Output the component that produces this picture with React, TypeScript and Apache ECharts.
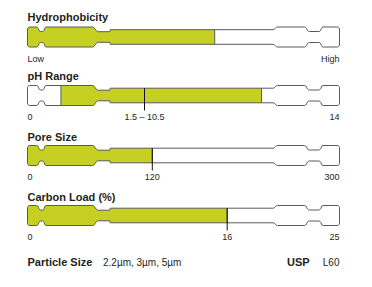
import React, { useEffect, useRef } from 'react';
import * as echarts from 'echarts';

// ---- data ----
const titles = ['Hydrophobicity', 'pH Range', 'Pore Size', 'Carbon Load (%)'];
const axisMax = [10, 14, 300, 25];
const fillStart = [0, 1.5, 0, 0];
const fillEnd = [6, 10.5, 120, 16];
const markerValue: (number | null)[] = [null, 5.25, 120, 16];
const tickValues = [[0, 10], [0, 5.25, 14], [0, 120, 300], [0, 16, 25]];
const tickLabels = [['Low', 'High'], ['0', '1.5 – 10.5', '14'], ['0', '120', '300'], ['0', '16', '25']];
const particleLabel = 'Particle Size';
const particleSizes = ['2.2µm', '3µm', '5µm'];
const uspLabel = 'USP';
const uspCode = 'L60';

// ---- styling / geometry ----
const FONT = '"Liberation Sans", Arial, sans-serif';
const FILL = '#c5d023';
const OUTLINE = '#5a5a5a';
const TEXT = '#231f20';
const barCenters = [37, 95.5, 155.5, 215.5];
const titleCenters = [16.5, 76, 136.5, 196.5];
const GRID_LEFT = 27.5;
const GRID_RIGHT = 32.5;
const W0 = 311.6;
// column silhouette: [dx, half-height]
const profile: [number, number][] = [
  [0, 8], [0.4, 9.1], [1.1, 9.7], [2.2, 10],
  [9.2, 10], [10.2, 9.5], [10.9, 8.3], [11.5, 6.6], [12.3, 5.8], [13.2, 5.5],
  [15.0, 5.5], [15.9, 5.8], [16.6, 6.8], [17.1, 8.5], [17.7, 9.6], [18.6, 10],
  [65.2, 10], [66.2, 9.6], [68.5, 6.5], [70, 5.3],
  [82.3, 5.3], [82.6, 7.3],
  [245.3, 7.3], [246.5, 7.7], [247.5, 8.8], [248.5, 9.7], [249.8, 10],
  [276.8, 10], [277.8, 9.5], [278.7, 8.3], [279.5, 6.6], [280.5, 5.8], [281.5, 5.5],
  [291, 5.5], [292, 5.8], [292.9, 6.8], [293.5, 8.5], [294.2, 9.6], [295.2, 10],
  [309.4, 10], [310.5, 9.7], [311.2, 9.1], [311.6, 8],
];

function hAt(dx: number): number {
  if (dx <= profile[0][0]) return profile[0][1];
  for (let i = 0; i < profile.length - 1; i++) {
    const [x0, h0] = profile[i];
    const [x1, h1] = profile[i + 1];
    if (dx >= x0 && dx <= x1) {
      if (x1 === x0) return Math.max(h0, h1);
      return h0 + ((h1 - h0) * (dx - x0)) / (x1 - x0);
    }
  }
  return profile[profile.length - 1][1];
}

function polyBetween(a: number, b: number, left: number, s: number, cy: number) {
  const top: [number, number][] = [[a, hAt(a)]];
  profile.forEach(([dx, h]) => {
    if (dx > a && dx < b) top.push([dx, h]);
  });
  top.push([b, hAt(b)]);
  const pts: number[][] = [];
  top.forEach(([dx, h]) => pts.push([left + dx * s, cy - h]));
  for (let i = top.length - 1; i >= 0; i--) pts.push([left + top[i][0] * s, cy + top[i][1]]);
  return pts;
}

function makeRender(row: number) {
  return (params: any, api: any) => {
    const cs = params.coordSys;
    const left = cs.x;
    const s = cs.width / W0;
    const cy = cs.y + cs.height / 2;
    const start = api.value(0);
    const end = api.value(1);
    const xa = api.coord([start, 0])[0];
    const xb = api.coord([end, 0])[0];
    const da = (xa - left) / s;
    const db = (xb - left) / s;
    const full = polyBetween(0, W0, left, s, cy);
    const children: any[] = [
      { type: 'polygon', shape: { points: full }, style: { fill: '#fff', stroke: null } },
      { type: 'polygon', shape: { points: polyBetween(da, db, left, s, cy) }, style: { fill: FILL, stroke: null } },
      { type: 'polygon', shape: { points: full }, style: { fill: null, stroke: OUTLINE, lineWidth: 1 } },
    ];
    if (start > 0) {
      const h = hAt(da);
      children.push({ type: 'line', shape: { x1: xa, y1: cy - h, x2: xa, y2: cy + h }, style: { stroke: OUTLINE, lineWidth: 1 } });
    }
    if (end < axisMax[row]) {
      const h = hAt(db);
      children.push({ type: 'line', shape: { x1: xb, y1: cy - h, x2: xb, y2: cy + h }, style: { stroke: OUTLINE, lineWidth: 1 } });
    }
    const mv = markerValue[row];
    if (mv !== null) {
      const xm = api.coord([mv, 0])[0];
      const h = hAt((xm - left) / s);
      children.push({ type: 'line', shape: { x1: xm, y1: cy - h, x2: xm, y2: cy + 15 }, style: { stroke: '#111', lineWidth: 1 } });
    }
    const vals = tickValues[row];
    vals.forEach((v, i) => {
      const x = api.coord([v, 0])[0];
      const align = i === 0 ? 'left' : i === vals.length - 1 ? 'right' : 'center';
      children.push({
        type: 'text',
        style: {
          text: tickLabels[row][i], x, y: cy + 21.5, align, verticalAlign: 'middle',
          fill: TEXT, fontSize: 9, fontFamily: FONT,
        },
      });
    });
    return { type: 'group', children };
  };
}

export default function App() {
  const ref = useRef<HTMLDivElement>(null);
  useEffect(() => {
    document.body.style.margin = '0';
    const chart = echarts.init(ref.current!, null, { renderer: 'svg' });
    const grids = barCenters.map((c) => ({ left: GRID_LEFT, right: GRID_RIGHT, top: c - 10, height: 20 }));
    const xAxis = axisMax.map((m, i) => ({ type: 'value', gridIndex: i, min: 0, max: m, show: false }));
    const yAxis = axisMax.map((_, i) => ({ type: 'value', gridIndex: i, min: 0, max: 1, show: false }));
    const series = axisMax.map((_, i) => ({
      type: 'custom',
      xAxisIndex: i,
      yAxisIndex: i,
      clip: false,
      renderItem: makeRender(i),
      data: [[fillStart[i], fillEnd[i]]],
    }));
    const graphic: any[] = titles.map((t, i) => ({
      type: 'text', left: null, x: GRID_LEFT, y: titleCenters[i],
      style: { text: t, fill: TEXT, font: `bold 11px ${FONT}`, verticalAlign: 'middle', align: 'left' },
    }));
    graphic.push(
      { type: 'text', x: GRID_LEFT, y: 262, style: { text: particleLabel, fill: TEXT, font: `bold 11px ${FONT}`, verticalAlign: 'middle', align: 'left' } },
      { type: 'text', x: 103, y: 262, style: { text: particleSizes.join(', '), fill: TEXT, font: `10px ${FONT}`, verticalAlign: 'middle', align: 'left' } },
      { type: 'text', x: 287, y: 262, style: { text: uspLabel, fill: TEXT, font: `bold 11px ${FONT}`, verticalAlign: 'middle', align: 'left' } },
      { type: 'text', x: 372 - GRID_RIGHT, y: 262, style: { text: uspCode, fill: TEXT, font: `10px ${FONT}`, verticalAlign: 'middle', align: 'right' } },
    );
    chart.setOption({
      animation: false,
      backgroundColor: '#fff',
      grid: grids,
      xAxis,
      yAxis,
      series,
      graphic,
    });
    return () => chart.dispose();
  }, []);
  return <div ref={ref} style={{ width: 372, height: 287 }} />;
}
